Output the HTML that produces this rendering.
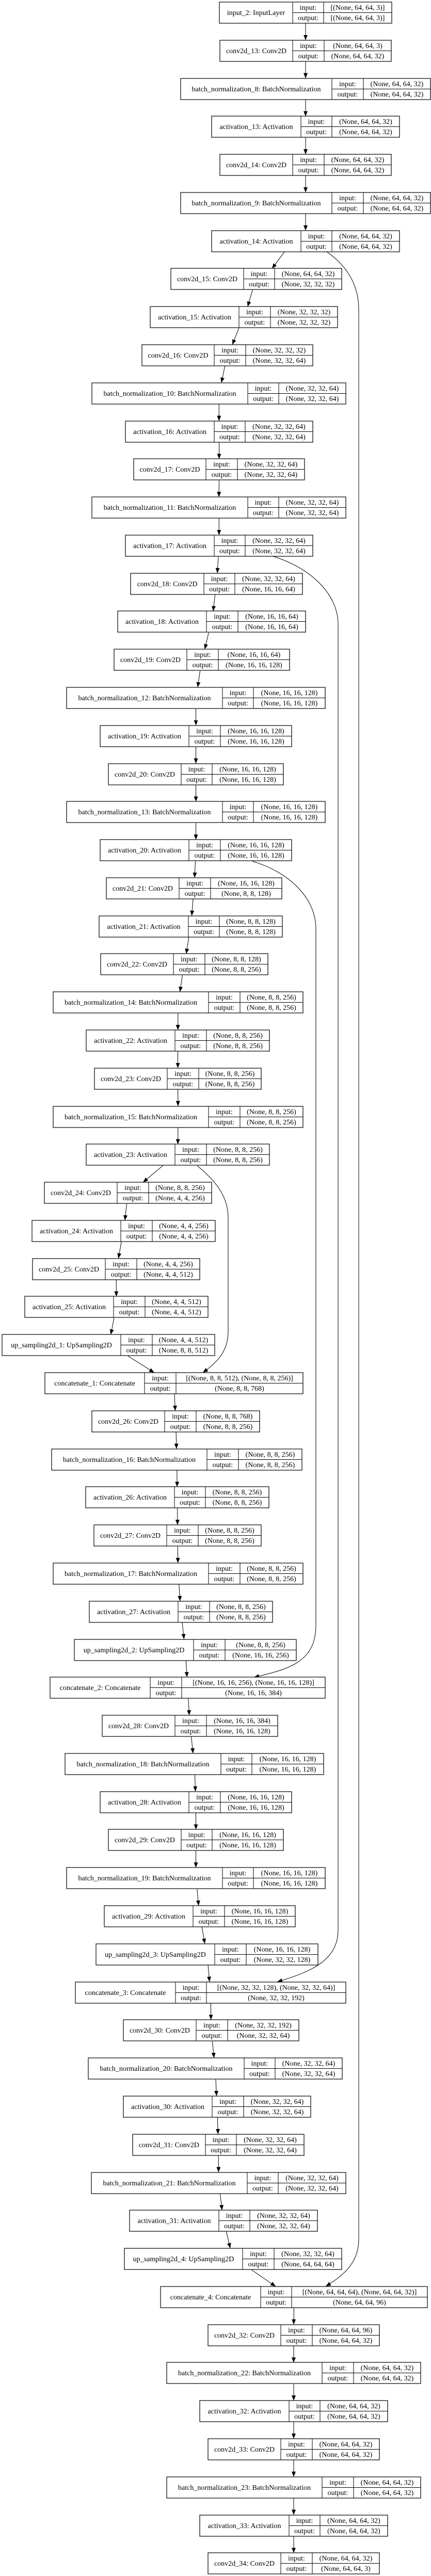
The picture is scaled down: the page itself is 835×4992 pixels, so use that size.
<!DOCTYPE html>
<html><head><meta charset="utf-8">
<style>
html,body{margin:0;padding:0;background:#fff;}
svg{display:block;}
text{font-family:"Liberation Serif",serif;font-size:14px;fill:#000;text-anchor:middle;}
rect{fill:#fff;stroke:#000;stroke-width:1.2;}
.d{stroke:#000;stroke-width:1;fill:none;}
.e{stroke:#000;stroke-width:1;fill:none;marker-end:url(#a);}
</style></head><body>
<svg width="835" height="4992" viewBox="0 0 835 4992" xmlns="http://www.w3.org/2000/svg">
<defs><marker id="a" markerUnits="userSpaceOnUse" markerWidth="12" markerHeight="10" refX="10" refY="4" orient="auto"><path d="M0,0 L10,4 L0,8 z" fill="#000"/></marker></defs>

<!-- edges -->
<path class="e" d="M592,45.5 L592,77.8"/>
<path class="e" d="M592,119.3 L592,151.6"/>
<path class="e" d="M592,193.1 L592,225.3"/>
<path class="e" d="M592,266.8 L592,299.1"/>
<path class="e" d="M592,340.6 L592,372.9"/>
<path class="e" d="M592,414.4 L592,446.7"/>
<path class="e" d="M551,488.2 L527,520.5"/>
<path class="e" d="M489.3,562 L479.7,594.2"/>
<path class="e" d="M462.9,635.7 L450.1,668"/>
<path class="e" d="M435.6,709.5 L429,741.8"/>
<path class="e" d="M424.2,783.3 L424.4,815.6"/>
<path class="e" d="M424.5,857.1 L424.5,889.4"/>
<path class="e" d="M424.4,930.9 L424.2,963.1"/>
<path class="e" d="M424.2,1004.6 L424.4,1036.9"/>
<path class="e" d="M423,1078.4 L421,1110.7"/>
<path class="e" d="M416.7,1152.2 L412.9,1184.5"/>
<path class="e" d="M404.3,1226 L396.7,1258.3"/>
<path class="e" d="M387.6,1299.8 L383,1332"/>
<path class="e" d="M379.5,1373.5 L379.5,1405.8"/>
<path class="e" d="M379.5,1447.3 L379.5,1479.6"/>
<path class="e" d="M379.5,1521.1 L379.5,1553.4"/>
<path class="e" d="M379.5,1594.9 L379.5,1627.2"/>
<path class="e" d="M378.5,1668.7 L377,1700.9"/>
<path class="e" d="M374,1742.4 L371.5,1774.7"/>
<path class="e" d="M365.8,1816.2 L360.8,1848.5"/>
<path class="e" d="M353.4,1890 L348.6,1922.3"/>
<path class="e" d="M344.9,1963.8 L344.6,1996.1"/>
<path class="e" d="M344.5,2037.6 L344.5,2069.8"/>
<path class="e" d="M344.6,2111.3 L344.9,2143.6"/>
<path class="e" d="M344.9,2185.1 L344.6,2217.4"/>
<path class="e" d="M315.5,2258.9 L277,2291.2"/>
<path class="e" d="M245.5,2332.7 L242,2365"/>
<path class="e" d="M235.2,2406.5 L229.4,2438.7"/>
<path class="e" d="M225.2,2480.2 L225.4,2512.5"/>
<path class="e" d="M220.9,2554 L214.7,2586.3"/>
<path class="e" d="M248.1,2627.8 L298.9,2660.1"/>
<path class="e" d="M338,2701.6 L339.5,2733.9"/>
<path class="e" d="M341.1,2775.4 L341.9,2807.6"/>
<path class="e" d="M342.8,2849.1 L343.2,2881.4"/>
<path class="e" d="M343.7,2922.9 L343.9,2955.2"/>
<path class="e" d="M344.3,2996.7 L344.7,3029"/>
<path class="e" d="M346.7,3070.5 L348.9,3102.8"/>
<path class="e" d="M353,3144.3 L356.5,3176.5"/>
<path class="e" d="M360.4,3218 L362.2,3250.3"/>
<path class="e" d="M364.9,3291.8 L366.6,3324.1"/>
<path class="e" d="M370.6,3365.6 L374,3397.9"/>
<path class="e" d="M377.4,3439.4 L378.6,3471.7"/>
<path class="e" d="M379.5,3513.2 L379.5,3545.4"/>
<path class="e" d="M379.5,3586.9 L379.5,3619.2"/>
<path class="e" d="M381.8,3660.7 L384.8,3693"/>
<path class="e" d="M391.2,3734.5 L396.8,3766.8"/>
<path class="e" d="M403.1,3808.3 L405.9,3840.6"/>
<path class="e" d="M408.3,3882.1 L408.7,3914.3"/>
<path class="e" d="M411.4,3955.8 L414.6,3988.1"/>
<path class="e" d="M418,4029.6 L419.5,4061.9"/>
<path class="e" d="M421.3,4103.4 L422.3,4135.7"/>
<path class="e" d="M423.2,4177.2 L423.4,4209.5"/>
<path class="e" d="M426.4,4251 L430.2,4283.2"/>
<path class="e" d="M438.6,4324.7 L446,4357"/>
<path class="e" d="M487,4398.5 L534,4430.8"/>
<path class="e" d="M569.4,4472.3 L569.1,4504.6"/>
<path class="e" d="M569,4546.1 L569,4578.4"/>
<path class="e" d="M569,4619.9 L569,4652.1"/>
<path class="e" d="M569,4693.6 L569,4725.9"/>
<path class="e" d="M569,4767.4 L569,4799.7"/>
<path class="e" d="M569,4841.2 L569,4873.5"/>
<path class="e" d="M569,4915 L569,4947.3"/>
<!-- skip connections -->
<path class="e" d="M633,488 C665,510 695,545 695,600 L695,4340 C695,4385 665,4410 631,4430.8"/>
<path class="e" d="M529,1078 C600,1100 655,1150 655,1210 L655,3740 C655,3800 600,3822 537,3840.6"/>
<path class="e" d="M489,1669 C560,1690 612,1740 612,1800 L612,3150 C612,3220 560,3235 492,3250.3"/>
<path class="e" d="M382,2259 C420,2290 442,2320 442,2360 L442,2580 C442,2620 420,2640 393,2660.1"/>

<!-- nodes -->
<g transform="translate(0,4)"><rect x="425" y="0" width="334" height="41"/><path class="d" d="M567 0V41M627 0V41M567 20.5H759"/><text x="496" y="25">input_2: InputLayer</text><text x="597" y="15">input:</text><text x="597" y="35">output:</text><text x="693" y="15">[(None, 64, 64, 3)]</text><text x="693" y="35">[(None, 64, 64, 3)]</text></g>
<g transform="translate(0,78)"><rect x="426" y="0" width="332" height="41"/><path class="d" d="M567 0V41M628 0V41M567 20.5H758"/><text x="496.5" y="25">conv2d_13: Conv2D</text><text x="597.5" y="15">input:</text><text x="597.5" y="35">output:</text><text x="693" y="15">(None, 64, 64, 3)</text><text x="693" y="35">(None, 64, 64, 32)</text></g>
<g transform="translate(0,152)"><rect x="350" y="0" width="484" height="41"/><path class="d" d="M643 0V41M704 0V41M643 20.5H834"/><text x="496.5" y="25">batch_normalization_8: BatchNormalization</text><text x="673.5" y="15">input:</text><text x="673.5" y="35">output:</text><text x="769" y="15">(None, 64, 64, 32)</text><text x="769" y="35">(None, 64, 64, 32)</text></g>
<g transform="translate(0,225)"><rect x="410" y="0" width="364" height="41"/><path class="d" d="M583 0V41M643 0V41M583 20.5H774"/><text x="496.5" y="25">activation_13: Activation</text><text x="613" y="15">input:</text><text x="613" y="35">output:</text><text x="708.5" y="15">(None, 64, 64, 32)</text><text x="708.5" y="35">(None, 64, 64, 32)</text></g>
<g transform="translate(0,299)"><rect x="426" y="0" width="332" height="41"/><path class="d" d="M567 0V41M628 0V41M567 20.5H758"/><text x="496.5" y="25">conv2d_14: Conv2D</text><text x="597.5" y="15">input:</text><text x="597.5" y="35">output:</text><text x="693" y="15">(None, 64, 64, 32)</text><text x="693" y="35">(None, 64, 64, 32)</text></g>
<g transform="translate(0,373)"><rect x="350" y="0" width="484" height="41"/><path class="d" d="M643 0V41M704 0V41M643 20.5H834"/><text x="496.5" y="25">batch_normalization_9: BatchNormalization</text><text x="673.5" y="15">input:</text><text x="673.5" y="35">output:</text><text x="769" y="15">(None, 64, 64, 32)</text><text x="769" y="35">(None, 64, 64, 32)</text></g>
<g transform="translate(0,447)"><rect x="410" y="0" width="364" height="41"/><path class="d" d="M583 0V41M643 0V41M583 20.5H774"/><text x="496.5" y="25">activation_14: Activation</text><text x="613" y="15">input:</text><text x="613" y="35">output:</text><text x="708.5" y="15">(None, 64, 64, 32)</text><text x="708.5" y="35">(None, 64, 64, 32)</text></g>
<g transform="translate(0,520)"><rect x="331" y="0" width="331" height="41"/><path class="d" d="M472 0V41M532 0V41M472 20.5H662"/><text x="401.5" y="25">conv2d_15: Conv2D</text><text x="502" y="15">input:</text><text x="502" y="35">output:</text><text x="597" y="15">(None, 64, 64, 32)</text><text x="597" y="35">(None, 32, 32, 32)</text></g>
<g transform="translate(0,594)"><rect x="291" y="0" width="363" height="41"/><path class="d" d="M463 0V41M524 0V41M463 20.5H654"/><text x="377" y="25">activation_15: Activation</text><text x="493.5" y="15">input:</text><text x="493.5" y="35">output:</text><text x="589" y="15">(None, 32, 32, 32)</text><text x="589" y="35">(None, 32, 32, 32)</text></g>
<g transform="translate(0,668)"><rect x="275" y="0" width="331" height="41"/><path class="d" d="M415 0V41M476 0V41M415 20.5H606"/><text x="345" y="25">conv2d_16: Conv2D</text><text x="445.5" y="15">input:</text><text x="445.5" y="35">output:</text><text x="541" y="15">(None, 32, 32, 32)</text><text x="541" y="35">(None, 32, 32, 64)</text></g>
<g transform="translate(0,742)"><rect x="178" y="0" width="492" height="41"/><path class="d" d="M480 0V41M540 0V41M480 20.5H670"/><text x="329" y="25">batch_normalization_10: BatchNormalization</text><text x="510" y="15">input:</text><text x="510" y="35">output:</text><text x="605" y="15">(None, 32, 32, 64)</text><text x="605" y="35">(None, 32, 32, 64)</text></g>
<g transform="translate(0,816)"><rect x="243" y="0" width="363" height="41"/><path class="d" d="M415 0V41M475 0V41M415 20.5H606"/><text x="329" y="25">activation_16: Activation</text><text x="445" y="15">input:</text><text x="445" y="35">output:</text><text x="540.5" y="15">(None, 32, 32, 64)</text><text x="540.5" y="35">(None, 32, 32, 64)</text></g>
<g transform="translate(0,889)"><rect x="259" y="0" width="331" height="41"/><path class="d" d="M399 0V41M460 0V41M399 20.5H590"/><text x="329" y="25">conv2d_17: Conv2D</text><text x="429.5" y="15">input:</text><text x="429.5" y="35">output:</text><text x="525" y="15">(None, 32, 32, 64)</text><text x="525" y="35">(None, 32, 32, 64)</text></g>
<g transform="translate(0,963)"><rect x="178" y="0" width="492" height="41"/><path class="d" d="M480 0V41M540 0V41M480 20.5H670"/><text x="329" y="25">batch_normalization_11: BatchNormalization</text><text x="510" y="15">input:</text><text x="510" y="35">output:</text><text x="605" y="15">(None, 32, 32, 64)</text><text x="605" y="35">(None, 32, 32, 64)</text></g>
<g transform="translate(0,1037)"><rect x="243" y="0" width="363" height="41"/><path class="d" d="M415 0V41M475 0V41M415 20.5H606"/><text x="329" y="25">activation_17: Activation</text><text x="445" y="15">input:</text><text x="445" y="35">output:</text><text x="540.5" y="15">(None, 32, 32, 64)</text><text x="540.5" y="35">(None, 32, 32, 64)</text></g>
<g transform="translate(0,1111)"><rect x="253" y="0" width="333" height="41"/><path class="d" d="M395 0V41M455 0V41M395 20.5H586"/><text x="324" y="25">conv2d_18: Conv2D</text><text x="425" y="15">input:</text><text x="425" y="35">output:</text><text x="520.5" y="15">(None, 32, 32, 64)</text><text x="520.5" y="35">(None, 16, 16, 64)</text></g>
<g transform="translate(0,1184)"><rect x="228" y="0" width="364" height="41"/><path class="d" d="M400 0V41M461 0V41M400 20.5H592"/><text x="314" y="25">activation_18: Activation</text><text x="430.5" y="15">input:</text><text x="430.5" y="35">output:</text><text x="526.5" y="15">(None, 16, 16, 64)</text><text x="526.5" y="35">(None, 16, 16, 64)</text></g>
<g transform="translate(0,1258)"><rect x="221" y="0" width="340" height="41"/><path class="d" d="M362 0V41M423 0V41M362 20.5H561"/><text x="291.5" y="25">conv2d_19: Conv2D</text><text x="392.5" y="15">input:</text><text x="392.5" y="35">output:</text><text x="492" y="15">(None, 16, 16, 64)</text><text x="492" y="35">(None, 16, 16, 128)</text></g>
<g transform="translate(0,1332)"><rect x="129" y="0" width="501" height="41"/><path class="d" d="M431 0V41M491 0V41M431 20.5H630"/><text x="280" y="25">batch_normalization_12: BatchNormalization</text><text x="461" y="15">input:</text><text x="461" y="35">output:</text><text x="560.5" y="15">(None, 16, 16, 128)</text><text x="560.5" y="35">(None, 16, 16, 128)</text></g>
<g transform="translate(0,1406)"><rect x="194" y="0" width="371" height="41"/><path class="d" d="M366 0V41M427 0V41M366 20.5H565"/><text x="280" y="25">activation_19: Activation</text><text x="396.5" y="15">input:</text><text x="396.5" y="35">output:</text><text x="496" y="15">(None, 16, 16, 128)</text><text x="496" y="35">(None, 16, 16, 128)</text></g>
<g transform="translate(0,1480)"><rect x="210" y="0" width="339" height="41"/><path class="d" d="M351 0V41M411 0V41M351 20.5H549"/><text x="280.5" y="25">conv2d_20: Conv2D</text><text x="381" y="15">input:</text><text x="381" y="35">output:</text><text x="480" y="15">(None, 16, 16, 128)</text><text x="480" y="35">(None, 16, 16, 128)</text></g>
<g transform="translate(0,1553)"><rect x="129" y="0" width="501" height="41"/><path class="d" d="M431 0V41M491 0V41M431 20.5H630"/><text x="280" y="25">batch_normalization_13: BatchNormalization</text><text x="461" y="15">input:</text><text x="461" y="35">output:</text><text x="560.5" y="15">(None, 16, 16, 128)</text><text x="560.5" y="35">(None, 16, 16, 128)</text></g>
<g transform="translate(0,1627)"><rect x="194" y="0" width="371" height="41"/><path class="d" d="M366 0V41M427 0V41M366 20.5H565"/><text x="280" y="25">activation_20: Activation</text><text x="396.5" y="15">input:</text><text x="396.5" y="35">output:</text><text x="496" y="15">(None, 16, 16, 128)</text><text x="496" y="35">(None, 16, 16, 128)</text></g>
<g transform="translate(0,1701)"><rect x="206" y="0" width="340" height="41"/><path class="d" d="M347 0V41M408 0V41M347 20.5H546"/><text x="276.5" y="25">conv2d_21: Conv2D</text><text x="377.5" y="15">input:</text><text x="377.5" y="35">output:</text><text x="477" y="15">(None, 16, 16, 128)</text><text x="477" y="35">(None, 8, 8, 128)</text></g>
<g transform="translate(0,1775)"><rect x="192" y="0" width="355" height="41"/><path class="d" d="M365 0V41M425 0V41M365 20.5H547"/><text x="278.5" y="25">activation_21: Activation</text><text x="395" y="15">input:</text><text x="395" y="35">output:</text><text x="486" y="15">(None, 8, 8, 128)</text><text x="486" y="35">(None, 8, 8, 128)</text></g>
<g transform="translate(0,1848)"><rect x="195" y="0" width="324" height="41"/><path class="d" d="M336 0V41M397 0V41M336 20.5H519"/><text x="265.5" y="25">conv2d_22: Conv2D</text><text x="366.5" y="15">input:</text><text x="366.5" y="35">output:</text><text x="458" y="15">(None, 8, 8, 128)</text><text x="458" y="35">(None, 8, 8, 256)</text></g>
<g transform="translate(0,1922)"><rect x="103" y="0" width="484" height="41"/><path class="d" d="M404 0V41M465 0V41M404 20.5H587"/><text x="253.5" y="25">batch_normalization_14: BatchNormalization</text><text x="434.5" y="15">input:</text><text x="434.5" y="35">output:</text><text x="526" y="15">(None, 8, 8, 256)</text><text x="526" y="35">(None, 8, 8, 256)</text></g>
<g transform="translate(0,1996)"><rect x="167" y="0" width="355" height="41"/><path class="d" d="M339 0V41M400 0V41M339 20.5H522"/><text x="253" y="25">activation_22: Activation</text><text x="369.5" y="15">input:</text><text x="369.5" y="35">output:</text><text x="461" y="15">(None, 8, 8, 256)</text><text x="461" y="35">(None, 8, 8, 256)</text></g>
<g transform="translate(0,2070)"><rect x="183" y="0" width="323" height="41"/><path class="d" d="M324 0V41M385 0V41M324 20.5H506"/><text x="253.5" y="25">conv2d_23: Conv2D</text><text x="354.5" y="15">input:</text><text x="354.5" y="35">output:</text><text x="445.5" y="15">(None, 8, 8, 256)</text><text x="445.5" y="35">(None, 8, 8, 256)</text></g>
<g transform="translate(0,2144)"><rect x="103" y="0" width="484" height="41"/><path class="d" d="M404 0V41M465 0V41M404 20.5H587"/><text x="253.5" y="25">batch_normalization_15: BatchNormalization</text><text x="434.5" y="15">input:</text><text x="434.5" y="35">output:</text><text x="526" y="15">(None, 8, 8, 256)</text><text x="526" y="35">(None, 8, 8, 256)</text></g>
<g transform="translate(0,2217)"><rect x="167" y="0" width="355" height="41"/><path class="d" d="M339 0V41M400 0V41M339 20.5H522"/><text x="253" y="25">activation_23: Activation</text><text x="369.5" y="15">input:</text><text x="369.5" y="35">output:</text><text x="461" y="15">(None, 8, 8, 256)</text><text x="461" y="35">(None, 8, 8, 256)</text></g>
<g transform="translate(0,2291)"><rect x="86" y="0" width="324" height="41"/><path class="d" d="M227 0V41M288 0V41M227 20.5H410"/><text x="156.5" y="25">conv2d_24: Conv2D</text><text x="257.5" y="15">input:</text><text x="257.5" y="35">output:</text><text x="349" y="15">(None, 8, 8, 256)</text><text x="349" y="35">(None, 4, 4, 256)</text></g>
<g transform="translate(0,2365)"><rect x="62" y="0" width="355" height="41"/><path class="d" d="M234 0V41M295 0V41M234 20.5H417"/><text x="148" y="25">activation_24: Activation</text><text x="264.5" y="15">input:</text><text x="264.5" y="35">output:</text><text x="356" y="15">(None, 4, 4, 256)</text><text x="356" y="35">(None, 4, 4, 256)</text></g>
<g transform="translate(0,2439)"><rect x="63" y="0" width="324" height="41"/><path class="d" d="M204 0V41M265 0V41M204 20.5H387"/><text x="133.5" y="25">conv2d_25: Conv2D</text><text x="234.5" y="15">input:</text><text x="234.5" y="35">output:</text><text x="326" y="15">(None, 4, 4, 256)</text><text x="326" y="35">(None, 4, 4, 512)</text></g>
<g transform="translate(0,2512)"><rect x="48" y="0" width="355" height="41"/><path class="d" d="M220 0V41M281 0V41M220 20.5H403"/><text x="134" y="25">activation_25: Activation</text><text x="250.5" y="15">input:</text><text x="250.5" y="35">output:</text><text x="342" y="15">(None, 4, 4, 512)</text><text x="342" y="35">(None, 4, 4, 512)</text></g>
<g transform="translate(0,2586)"><rect x="4" y="0" width="412" height="41"/><path class="d" d="M234 0V41M295 0V41M234 20.5H416"/><text x="119" y="25">up_sampling2d_1: UpSampling2D</text><text x="264.5" y="15">input:</text><text x="264.5" y="35">output:</text><text x="355.5" y="15">(None, 4, 4, 512)</text><text x="355.5" y="35">(None, 8, 8, 512)</text></g>
<g transform="translate(0,2660)"><rect x="87" y="0" width="500" height="41"/><path class="d" d="M280 0V41M341 0V41M280 20.5H587"/><text x="183.5" y="25">concatenate_1: Concatenate</text><text x="310.5" y="15">input:</text><text x="310.5" y="35">output:</text><text x="464" y="15">[(None, 8, 8, 512), (None, 8, 8, 256)]</text><text x="464" y="35">(None, 8, 8, 768)</text></g>
<g transform="translate(0,2734)"><rect x="178" y="0" width="325" height="41"/><path class="d" d="M319 0V41M380 0V41M319 20.5H503"/><text x="248.5" y="25">conv2d_26: Conv2D</text><text x="349.5" y="15">input:</text><text x="349.5" y="35">output:</text><text x="441.5" y="15">(None, 8, 8, 768)</text><text x="441.5" y="35">(None, 8, 8, 256)</text></g>
<g transform="translate(0,2808)"><rect x="100" y="0" width="485" height="41"/><path class="d" d="M401 0V41M462 0V41M401 20.5H585"/><text x="250.5" y="25">batch_normalization_16: BatchNormalization</text><text x="431.5" y="15">input:</text><text x="431.5" y="35">output:</text><text x="523.5" y="15">(None, 8, 8, 256)</text><text x="523.5" y="35">(None, 8, 8, 256)</text></g>
<g transform="translate(0,2881)"><rect x="166" y="0" width="355" height="41"/><path class="d" d="M338 0V41M398 0V41M338 20.5H521"/><text x="252" y="25">activation_26: Activation</text><text x="368" y="15">input:</text><text x="368" y="35">output:</text><text x="459.5" y="15">(None, 8, 8, 256)</text><text x="459.5" y="35">(None, 8, 8, 256)</text></g>
<g transform="translate(0,2955)"><rect x="182" y="0" width="324" height="41"/><path class="d" d="M323 0V41M384 0V41M323 20.5H506"/><text x="252.5" y="25">conv2d_27: Conv2D</text><text x="353.5" y="15">input:</text><text x="353.5" y="35">output:</text><text x="445" y="15">(None, 8, 8, 256)</text><text x="445" y="35">(None, 8, 8, 256)</text></g>
<g transform="translate(0,3029)"><rect x="103" y="0" width="484" height="41"/><path class="d" d="M404 0V41M465 0V41M404 20.5H587"/><text x="253.5" y="25">batch_normalization_17: BatchNormalization</text><text x="434.5" y="15">input:</text><text x="434.5" y="35">output:</text><text x="526" y="15">(None, 8, 8, 256)</text><text x="526" y="35">(None, 8, 8, 256)</text></g>
<g transform="translate(0,3103)"><rect x="173" y="0" width="355" height="41"/><path class="d" d="M345 0V41M406 0V41M345 20.5H528"/><text x="259" y="25">activation_27: Activation</text><text x="375.5" y="15">input:</text><text x="375.5" y="35">output:</text><text x="467" y="15">(None, 8, 8, 256)</text><text x="467" y="35">(None, 8, 8, 256)</text></g>
<g transform="translate(0,3177)"><rect x="144" y="0" width="430" height="41"/><path class="d" d="M375 0V41M436 0V41M375 20.5H574"/><text x="259.5" y="25">up_sampling2d_2: UpSampling2D</text><text x="405.5" y="15">input:</text><text x="405.5" y="35">output:</text><text x="505" y="15">(None, 8, 8, 256)</text><text x="505" y="35">(None, 16, 16, 256)</text></g>
<g transform="translate(0,3250)"><rect x="97" y="0" width="533" height="41"/><path class="d" d="M291 0V41M352 0V41M291 20.5H630"/><text x="194" y="25">concatenate_2: Concatenate</text><text x="321.5" y="15">input:</text><text x="321.5" y="35">output:</text><text x="491" y="15">[(None, 16, 16, 256), (None, 16, 16, 128)]</text><text x="491" y="35">(None, 16, 16, 384)</text></g>
<g transform="translate(0,3324)"><rect x="198" y="0" width="340" height="41"/><path class="d" d="M339 0V41M400 0V41M339 20.5H538"/><text x="268.5" y="25">conv2d_28: Conv2D</text><text x="369.5" y="15">input:</text><text x="369.5" y="35">output:</text><text x="469" y="15">(None, 16, 16, 384)</text><text x="469" y="35">(None, 16, 16, 128)</text></g>
<g transform="translate(0,3398)"><rect x="126" y="0" width="501" height="41"/><path class="d" d="M428 0V41M488 0V41M428 20.5H627"/><text x="277" y="25">batch_normalization_18: BatchNormalization</text><text x="458" y="15">input:</text><text x="458" y="35">output:</text><text x="557.5" y="15">(None, 16, 16, 128)</text><text x="557.5" y="35">(None, 16, 16, 128)</text></g>
<g transform="translate(0,3472)"><rect x="194" y="0" width="371" height="41"/><path class="d" d="M366 0V41M427 0V41M366 20.5H565"/><text x="280" y="25">activation_28: Activation</text><text x="396.5" y="15">input:</text><text x="396.5" y="35">output:</text><text x="496" y="15">(None, 16, 16, 128)</text><text x="496" y="35">(None, 16, 16, 128)</text></g>
<g transform="translate(0,3545)"><rect x="210" y="0" width="339" height="41"/><path class="d" d="M351 0V41M411 0V41M351 20.5H549"/><text x="280.5" y="25">conv2d_29: Conv2D</text><text x="381" y="15">input:</text><text x="381" y="35">output:</text><text x="480" y="15">(None, 16, 16, 128)</text><text x="480" y="35">(None, 16, 16, 128)</text></g>
<g transform="translate(0,3619)"><rect x="129" y="0" width="501" height="41"/><path class="d" d="M431 0V41M491 0V41M431 20.5H630"/><text x="280" y="25">batch_normalization_19: BatchNormalization</text><text x="461" y="15">input:</text><text x="461" y="35">output:</text><text x="560.5" y="15">(None, 16, 16, 128)</text><text x="560.5" y="35">(None, 16, 16, 128)</text></g>
<g transform="translate(0,3693)"><rect x="202" y="0" width="370" height="41"/><path class="d" d="M374 0V41M435 0V41M374 20.5H572"/><text x="288" y="25">activation_29: Activation</text><text x="404.5" y="15">input:</text><text x="404.5" y="35">output:</text><text x="503.5" y="15">(None, 16, 16, 128)</text><text x="503.5" y="35">(None, 16, 16, 128)</text></g>
<g transform="translate(0,3767)"><rect x="186" y="0" width="430" height="41"/><path class="d" d="M416 0V41M477 0V41M416 20.5H616"/><text x="301" y="25">up_sampling2d_3: UpSampling2D</text><text x="446.5" y="15">input:</text><text x="446.5" y="35">output:</text><text x="546.5" y="15">(None, 16, 16, 128)</text><text x="546.5" y="35">(None, 32, 32, 128)</text></g>
<g transform="translate(0,3841)"><rect x="146" y="0" width="524" height="41"/><path class="d" d="M340 0V41M400 0V41M340 20.5H670"/><text x="243" y="25">concatenate_3: Concatenate</text><text x="370" y="15">input:</text><text x="370" y="35">output:</text><text x="535" y="15">[(None, 32, 32, 128), (None, 32, 32, 64)]</text><text x="535" y="35">(None, 32, 32, 192)</text></g>
<g transform="translate(0,3914)"><rect x="239" y="0" width="340" height="41"/><path class="d" d="M380 0V41M441 0V41M380 20.5H579"/><text x="309.5" y="25">conv2d_30: Conv2D</text><text x="410.5" y="15">input:</text><text x="410.5" y="35">output:</text><text x="510" y="15">(None, 32, 32, 192)</text><text x="510" y="35">(None, 32, 32, 64)</text></g>
<g transform="translate(0,3988)"><rect x="171" y="0" width="492" height="41"/><path class="d" d="M473 0V41M533 0V41M473 20.5H663"/><text x="322" y="25">batch_normalization_20: BatchNormalization</text><text x="503" y="15">input:</text><text x="503" y="35">output:</text><text x="598" y="15">(None, 32, 32, 64)</text><text x="598" y="35">(None, 32, 32, 64)</text></g>
<g transform="translate(0,4062)"><rect x="239" y="0" width="363" height="41"/><path class="d" d="M411 0V41M472 0V41M411 20.5H602"/><text x="325" y="25">activation_30: Activation</text><text x="441.5" y="15">input:</text><text x="441.5" y="35">output:</text><text x="537" y="15">(None, 32, 32, 64)</text><text x="537" y="35">(None, 32, 32, 64)</text></g>
<g transform="translate(0,4136)"><rect x="257" y="0" width="332" height="41"/><path class="d" d="M398 0V41M458 0V41M398 20.5H589"/><text x="327.5" y="25">conv2d_31: Conv2D</text><text x="428" y="15">input:</text><text x="428" y="35">output:</text><text x="523.5" y="15">(None, 32, 32, 64)</text><text x="523.5" y="35">(None, 32, 32, 64)</text></g>
<g transform="translate(0,4210)"><rect x="177" y="0" width="493" height="41"/><path class="d" d="M479 0V41M539 0V41M479 20.5H670"/><text x="328" y="25">batch_normalization_21: BatchNormalization</text><text x="509" y="15">input:</text><text x="509" y="35">output:</text><text x="604.5" y="15">(None, 32, 32, 64)</text><text x="604.5" y="35">(None, 32, 32, 64)</text></g>
<g transform="translate(0,4283)"><rect x="251" y="0" width="364" height="41"/><path class="d" d="M424 0V41M484 0V41M424 20.5H615"/><text x="337.5" y="25">activation_31: Activation</text><text x="454" y="15">input:</text><text x="454" y="35">output:</text><text x="549.5" y="15">(None, 32, 32, 64)</text><text x="549.5" y="35">(None, 32, 32, 64)</text></g>
<g transform="translate(0,4357)"><rect x="241" y="0" width="421" height="41"/><path class="d" d="M470 0V41M531 0V41M470 20.5H662"/><text x="355.5" y="25">up_sampling2d_4: UpSampling2D</text><text x="500.5" y="15">input:</text><text x="500.5" y="35">output:</text><text x="596.5" y="15">(None, 32, 32, 64)</text><text x="596.5" y="35">(None, 64, 64, 64)</text></g>
<g transform="translate(0,4431)"><rect x="311" y="0" width="517" height="41"/><path class="d" d="M505 0V41M565 0V41M505 20.5H828"/><text x="408" y="25">concatenate_4: Concatenate</text><text x="535" y="15">input:</text><text x="535" y="35">output:</text><text x="696.5" y="15">[(None, 64, 64, 64), (None, 64, 64, 32)]</text><text x="696.5" y="35">(None, 64, 64, 96)</text></g>
<g transform="translate(0,4505)"><rect x="403" y="0" width="332" height="41"/><path class="d" d="M544 0V41M605 0V41M544 20.5H735"/><text x="473.5" y="25">conv2d_32: Conv2D</text><text x="574.5" y="15">input:</text><text x="574.5" y="35">output:</text><text x="670" y="15">(None, 64, 64, 96)</text><text x="670" y="35">(None, 64, 64, 32)</text></g>
<g transform="translate(0,4578)"><rect x="323" y="0" width="492" height="41"/><path class="d" d="M624 0V41M685 0V41M624 20.5H815"/><text x="473.5" y="25">batch_normalization_22: BatchNormalization</text><text x="654.5" y="15">input:</text><text x="654.5" y="35">output:</text><text x="750" y="15">(None, 64, 64, 32)</text><text x="750" y="35">(None, 64, 64, 32)</text></g>
<g transform="translate(0,4652)"><rect x="387" y="0" width="364" height="41"/><path class="d" d="M560 0V41M620 0V41M560 20.5H751"/><text x="473.5" y="25">activation_32: Activation</text><text x="590" y="15">input:</text><text x="590" y="35">output:</text><text x="685.5" y="15">(None, 64, 64, 32)</text><text x="685.5" y="35">(None, 64, 64, 32)</text></g>
<g transform="translate(0,4726)"><rect x="403" y="0" width="332" height="41"/><path class="d" d="M544 0V41M605 0V41M544 20.5H735"/><text x="473.5" y="25">conv2d_33: Conv2D</text><text x="574.5" y="15">input:</text><text x="574.5" y="35">output:</text><text x="670" y="15">(None, 64, 64, 32)</text><text x="670" y="35">(None, 64, 64, 32)</text></g>
<g transform="translate(0,4800)"><rect x="323" y="0" width="492" height="41"/><path class="d" d="M624 0V41M685 0V41M624 20.5H815"/><text x="473.5" y="25">batch_normalization_23: BatchNormalization</text><text x="654.5" y="15">input:</text><text x="654.5" y="35">output:</text><text x="750" y="15">(None, 64, 64, 32)</text><text x="750" y="35">(None, 64, 64, 32)</text></g>
<g transform="translate(0,4874)"><rect x="387" y="0" width="364" height="41"/><path class="d" d="M560 0V41M620 0V41M560 20.5H751"/><text x="473.5" y="25">activation_33: Activation</text><text x="590" y="15">input:</text><text x="590" y="35">output:</text><text x="685.5" y="15">(None, 64, 64, 32)</text><text x="685.5" y="35">(None, 64, 64, 32)</text></g>
<g transform="translate(0,4947)"><rect x="403" y="0" width="332" height="41"/><path class="d" d="M544 0V41M605 0V41M544 20.5H735"/><text x="473.5" y="25">conv2d_34: Conv2D</text><text x="574.5" y="15">input:</text><text x="574.5" y="35">output:</text><text x="670" y="15">(None, 64, 64, 32)</text><text x="670" y="35">(None, 64, 64, 3)</text></g>
</svg>
</body></html>
